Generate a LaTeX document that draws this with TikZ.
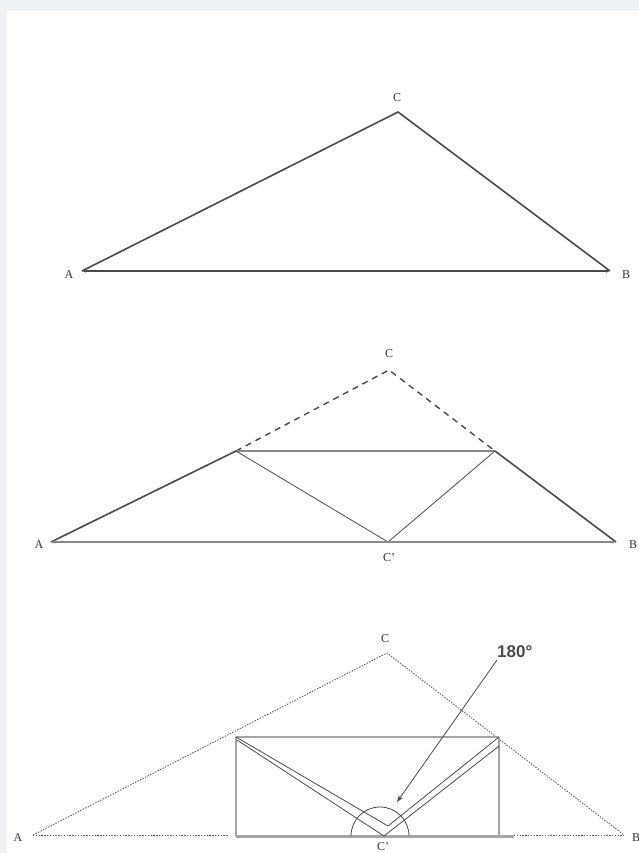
\documentclass[tikz,border=0pt]{standalone}
\usepackage{fontspec}
\setmainfont{Liberation Serif}
\newfontfamily\sansbold{Liberation Sans}
\usetikzlibrary{arrows.meta}
\definecolor{frameg}{HTML}{EEF2F6}
\definecolor{darkln}{HTML}{4A4A4A}
\definecolor{midln}{HTML}{8A8A8A}
\definecolor{lightln}{HTML}{A4A4A4}
\begin{document}
\begin{tikzpicture}[x=1pt,y=-1pt,
  lbl/.style={font=\fontsize{12}{12}\selectfont, text=black!80, inner sep=0pt},
  side/.style={draw=darkln, line width=1.6pt},
  dashside/.style={draw=darkln, line width=1.4pt, dash pattern=on 6pt off 5pt},
  baseln/.style={draw=midln, line width=2.6pt},
  topln/.style={draw=midln, line width=2pt},
  thinln/.style={draw=darkln, line width=0.8pt},
  dotln/.style={draw=black!65, line width=0.9pt, dash pattern=on 1.4pt off 1.4pt},
  rectln/.style={draw=lightln, line width=1.6pt},
  rectbase/.style={draw=lightln, line width=3pt},
  tips/.style={{Latex[length=4pt,width=3.5pt]}-{Latex[length=4pt,width=3.5pt]}}
]
\useasboundingbox (0,0) rectangle (639,853);
\fill[frameg] (0,0) rectangle (639,853);
\fill[white] (7,11) rectangle (639,853);

% ---------- Figure 1 ----------
\coordinate (A1) at (82,271);
\coordinate (B1) at (610,271);
\coordinate (C1) at (398,112);
\draw[side] (A1) -- (C1) -- (B1);
\draw[side, tips] (A1) -- (B1);
\node[lbl] (lA1) at (69,275) {A};
\node[lbl] (lB1) at (626,275) {B};
\node[lbl] (lC1) at (397,98) {C};

% ---------- Figure 2 ----------
\coordinate (A2) at (51,542);
\coordinate (B2) at (616,542);
\coordinate (C2) at (389,370);
\coordinate (P2) at (236,451);
\coordinate (Q2) at (495,451);
\coordinate (D2) at (388,542);
\draw[side] (A2) -- (P2);
\draw[side] (Q2) -- (B2);
\draw[dashside] (P2) -- (C2) -- (Q2);
\draw[topln] (P2) -- (Q2);
\draw[thinln] (P2) -- (D2) -- (Q2);
\draw[baseln, tips] (A2) -- (B2);
\node[lbl] (lA2) at (39,545) {A};
\node[lbl] (lB2) at (633,545) {B};
\node[lbl] (lC2) at (389,354) {C};
\node[lbl] (lD2) at (389,558) {C'};

% ---------- Figure 3 ----------
\coordinate (A3) at (33,835);
\coordinate (B3) at (624,835);
\coordinate (C3) at (387,653);
\coordinate (R1) at (236,737);
\coordinate (R2) at (499,737);
\coordinate (R3) at (499,836);
\coordinate (R4) at (236,836);
\coordinate (E3) at (514,836);
\coordinate (F3) at (228,835);
\coordinate (G3) at (514,835);
\coordinate (V3) at (388,826);
\coordinate (D3) at (384,836);
\coordinate (R1b) at (237,740);
\coordinate (R2b) at (499,746);
\coordinate (O3) at (380,836);
\coordinate (arrS) at (497,660);
\coordinate (arrT) at (397,802);

\draw[dotln] (A3) -- (C3) -- (B3);
\draw[dotln] (A3) -- (F3);
\draw[dotln] (G3) -- (B3);
\draw[rectln] (R1) -- (R4);
\draw[rectln] (R2) -- (R3);
\draw[topln, draw=lightln] (R1) -- (R2);
\draw[rectbase] (R4) -- (E3);
\draw[thinln] (R1) -- (V3) -- (R2);
\draw[thinln] (R1b) -- (D3) -- (R2b);
\begin{scope}
  \clip (340,770) rectangle (420,835);
  \draw[thinln] (O3) circle[radius=29pt];
\end{scope}
\draw[thinln, -{Stealth[length=7pt,width=5pt]}] (arrS) -- (arrT);
\node[font=\sansbold\bfseries\fontsize{17}{17}\selectfont, text=black!70, inner sep=0pt, anchor=south west] (t180) at (497,658) {180°};
\node[lbl] (lA3) at (18,838) {A};
\node[lbl] (lB3) at (636,838) {B};
\node[lbl] (lC3) at (385,639) {C};
\node[lbl] (lD3) at (383,847) {C'};
\end{tikzpicture}
\end{document}
